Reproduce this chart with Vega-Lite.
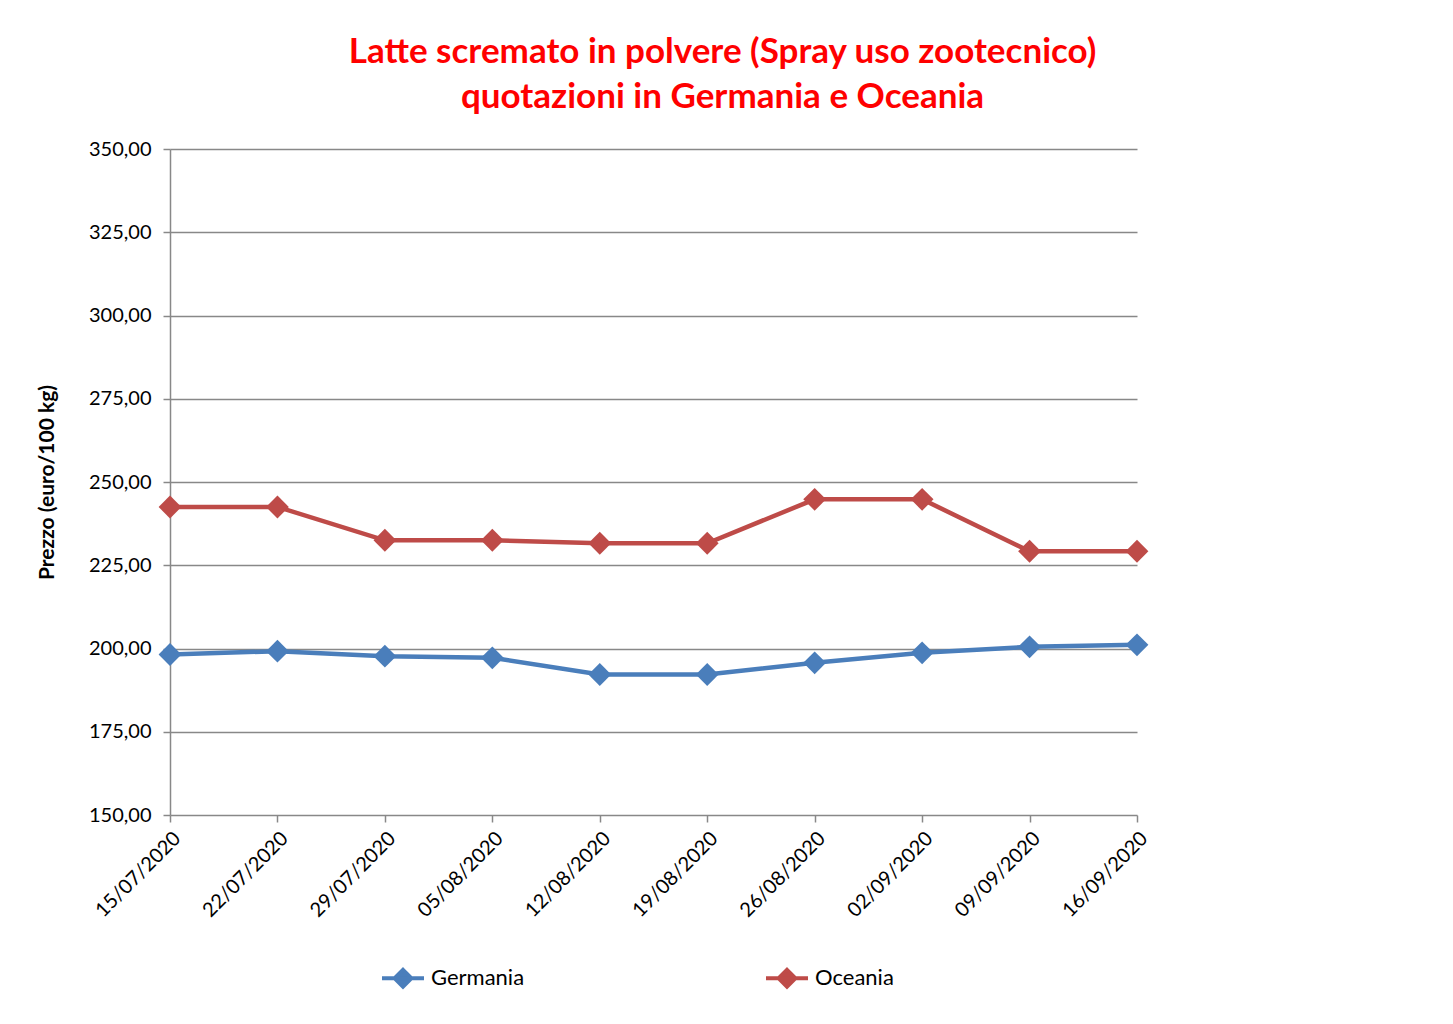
{
  "$schema": "https://vega.github.io/schema/vega-lite/v6.json",
  "width": 967,
  "height": 666,
  "autosize": {"type": "none"},
  "padding": {"left": 170, "top": 149, "right": 316, "bottom": 209},
  "background": "white",
  "title": {
    "text": ["Latte scremato in polvere (Spray uso zootecnico)", "quotazioni in Germania e Oceania"],
    "color": "#ff0000",
    "font": "Lato",
    "fontSize": 35,
    "fontWeight": "bold",
    "anchor": "middle",
    "dx": 69,
    "offset": 24,
    "lineHeight": 45
  },
  "data": {
    "values": [
      {"data": "15/07/2020", "serie": "Germania", "prezzo": 198.2},
      {"data": "22/07/2020", "serie": "Germania", "prezzo": 199.2},
      {"data": "29/07/2020", "serie": "Germania", "prezzo": 197.7},
      {"data": "05/08/2020", "serie": "Germania", "prezzo": 197.2},
      {"data": "12/08/2020", "serie": "Germania", "prezzo": 192.2},
      {"data": "19/08/2020", "serie": "Germania", "prezzo": 192.2},
      {"data": "26/08/2020", "serie": "Germania", "prezzo": 195.7},
      {"data": "02/09/2020", "serie": "Germania", "prezzo": 198.7},
      {"data": "09/09/2020", "serie": "Germania", "prezzo": 200.5},
      {"data": "16/09/2020", "serie": "Germania", "prezzo": 201.1},
      {"data": "15/07/2020", "serie": "Oceania", "prezzo": 242.5},
      {"data": "22/07/2020", "serie": "Oceania", "prezzo": 242.5},
      {"data": "29/07/2020", "serie": "Oceania", "prezzo": 232.5},
      {"data": "05/08/2020", "serie": "Oceania", "prezzo": 232.5},
      {"data": "12/08/2020", "serie": "Oceania", "prezzo": 231.6},
      {"data": "19/08/2020", "serie": "Oceania", "prezzo": 231.6},
      {"data": "26/08/2020", "serie": "Oceania", "prezzo": 244.8},
      {"data": "02/09/2020", "serie": "Oceania", "prezzo": 244.8},
      {"data": "09/09/2020", "serie": "Oceania", "prezzo": 229.2},
      {"data": "16/09/2020", "serie": "Oceania", "prezzo": 229.2}
    ]
  },
  "encoding": {
    "x": {
      "field": "data",
      "type": "ordinal",
      "sort": null,
      "scale": {"type": "point", "padding": 0},
      "axis": {
        "title": null,
        "labelAngle": -45,
        "labelAlign": "right",
        "labelBaseline": "top",
        "labelFont": "Lato",
        "labelFontSize": 20,
        "labelColor": "#000000",
        "labelPadding": 6,
        "tickSize": 7,
        "tickColor": "#888888",
        "tickWidth": 1.5,
        "domain": false,
        "grid": false
      }
    },
    "y": {
      "field": "prezzo",
      "type": "quantitative",
      "scale": {"domain": [150, 350], "nice": false, "zero": false},
      "axis": {
        "title": "Prezzo (euro/100 kg)",
        "titleFont": "Lato",
        "titleFontSize": 21,
        "titleFontWeight": "bold",
        "titleColor": "#000000",
        "titlePadding": 31,
        "values": [150, 175, 200, 225, 250, 275, 300, 325, 350],
        "labelExpr": "replace(format(datum.value, '.2f'), '.', ',')",
        "labelFont": "Lato",
        "labelFontSize": 20,
        "labelColor": "#000000",
        "labelPadding": 12,
        "tickSize": 7,
        "tickColor": "#888888",
        "tickWidth": 1.5,
        "domainColor": "#888888",
        "domainWidth": 1.5,
        "gridColor": "#888888",
        "gridWidth": 1.5
      }
    },
    "color": {
      "field": "serie",
      "type": "nominal",
      "scale": {"domain": ["Germania", "Oceania"], "range": ["#4a7ebb", "#be4b48"]},
      "legend": {
        "title": null,
        "orient": "none",
        "direction": "horizontal",
        "legendX": 217,
        "legendY": 813,
        "columnPadding": 233,
        "labelFont": "Lato",
        "labelFontSize": 22,
        "labelColor": "#000000",
        "labelOffset": 12,
        "symbolType": "M-1.5,0H1.5M0,-0.6L0.6,0L0,0.6L-0.6,0Z",
        "symbolSize": 784,
        "symbolStrokeWidth": 4
      }
    }
  },
  "layer": [
    {"mark": {"type": "line", "strokeWidth": 4.5}},
    {"mark": {"type": "point", "shape": "diamond", "filled": true, "size": 520, "opacity": 1}}
  ],
  "config": {
    "view": {"stroke": null}
  }
}
